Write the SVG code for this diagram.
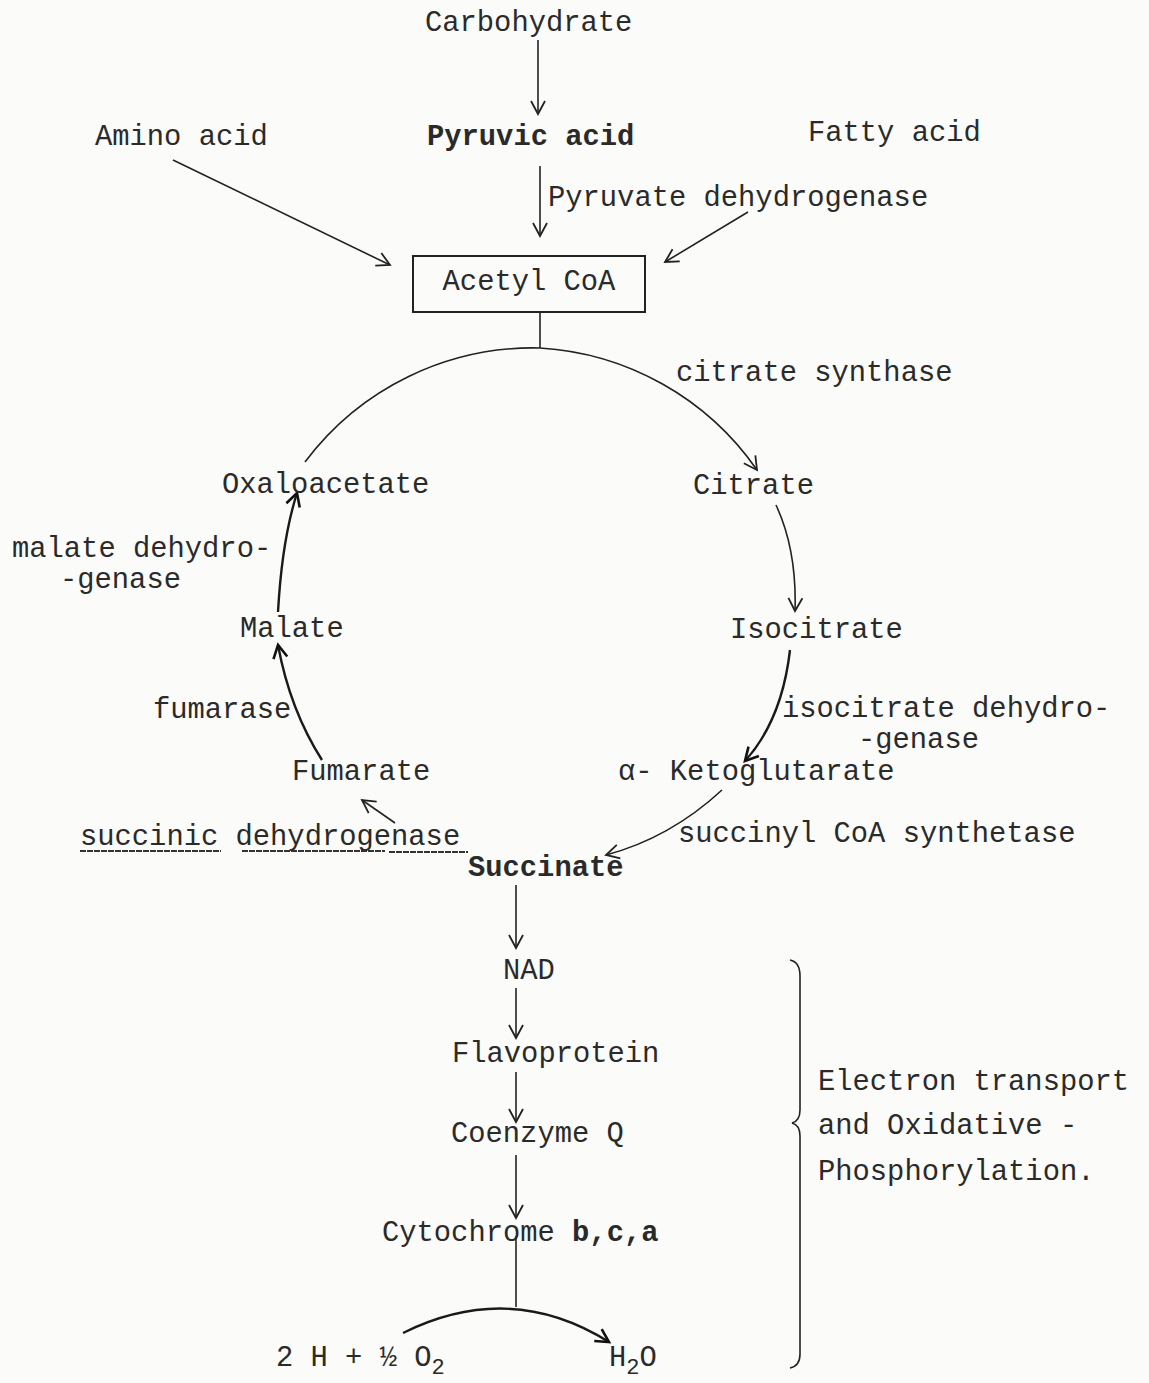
<svg xmlns="http://www.w3.org/2000/svg" width="1149" height="1383" viewBox="0 0 1149 1383">
<style>
text{font-family:"Liberation Mono","DejaVu Sans Mono",monospace;font-size:28.8px;fill:#2a2a2a}
.b{font-weight:bold}
.c{stroke:#222;stroke-width:1.6;fill:none}
.h{stroke:#1a1a1a;stroke-width:2.4;fill:none}
.u{stroke:#333;stroke-width:2;stroke-dasharray:6 1}
</style>
<defs>
<marker id="ah" viewBox="-16 -10 20 20" refX="0" refY="0" markerWidth="20" markerHeight="20" markerUnits="userSpaceOnUse" orient="auto" overflow="visible">
<path d="M -13 -7 L 0 0 L -13 7" fill="none" stroke="#222" stroke-width="1.8"/>
</marker>
<marker id="ahb" viewBox="-16 -10 20 20" refX="0" refY="0" markerWidth="20" markerHeight="20" markerUnits="userSpaceOnUse" orient="auto" overflow="visible">
<path d="M -13 -7 L 0 0 L -13 7" fill="none" stroke="#111" stroke-width="2.6"/>
</marker>
</defs>
<rect x="0" y="0" width="1149" height="1383" fill="#fbfbf9"/>

<g id="connectors">
<line class="c" x1="538" y1="40" x2="538" y2="114" marker-end="url(#ah)"/>
<line class="c" x1="540" y1="166" x2="540" y2="236" marker-end="url(#ah)"/>
<line class="c" x1="173" y1="160" x2="390" y2="265" marker-end="url(#ah)"/>
<line class="c" x1="748" y1="212" x2="665" y2="262" marker-end="url(#ah)"/>
<line class="c" x1="540" y1="312" x2="540" y2="348"/>
<path class="c" d="M 305 462 A 285 285 0 0 1 540 348"/>
<path class="c" d="M 540 348 A 285 285 0 0 1 757 470" marker-end="url(#ah)"/>
<path class="c" d="M 776 505 Q 797 550 795 611" marker-end="url(#ah)"/>
<path class="h" d="M 790 650 Q 782 720 745 761" marker-end="url(#ahb)"/>
<path class="c" d="M 722 790 Q 670 838 606 855" marker-end="url(#ah)"/>
<line class="c" x1="395" y1="823" x2="362" y2="800" marker-end="url(#ah)"/>
<path class="h" d="M 322 760 Q 290 710 278 645" marker-end="url(#ahb)"/>
<path class="h" d="M 278 612 Q 282 540 297 493" marker-end="url(#ahb)"/>
<line class="c" x1="516" y1="885" x2="516" y2="948" marker-end="url(#ah)"/>
<line class="c" x1="516" y1="988" x2="516" y2="1038" marker-end="url(#ah)"/>
<line class="c" x1="516" y1="1072" x2="516" y2="1122" marker-end="url(#ah)"/>
<line class="c" x1="516" y1="1155" x2="516" y2="1218" marker-end="url(#ah)"/>
<line class="c" x1="516" y1="1236" x2="516" y2="1307"/>
<path class="h" d="M 403 1333 Q 510 1280 609 1342" marker-end="url(#ahb)"/>
</g>

<g id="carbohydrate"><text x="425" y="31">Carbohydrate</text></g>
<g id="pyruvic-acid"><text class="b" x="427" y="145">Pyruvic acid</text></g>
<g id="amino-acid"><text x="95" y="145">Amino acid</text></g>
<g id="fatty-acid"><text x="808" y="141">Fatty acid</text></g>
<g id="pyruvate-dehydrogenase"><text x="548" y="206">Pyruvate dehydrogenase</text></g>
<g id="acetyl-coa">
<rect x="413" y="256" width="232" height="56" fill="none" stroke="#222" stroke-width="2"/>
<text x="529" y="290" text-anchor="middle">Acetyl CoA</text>
</g>
<g id="citrate-synthase"><text x="676" y="381">citrate synthase</text></g>
<g id="oxaloacetate"><text x="222" y="493">Oxaloacetate</text></g>
<g id="citrate"><text x="693" y="494">Citrate</text></g>
<g id="malate-dehydrogenase"><text x="12" y="557">malate dehydro-</text><text x="60" y="588">-genase</text></g>
<g id="malate"><text x="240" y="637">Malate</text></g>
<g id="isocitrate"><text x="730" y="638">Isocitrate</text></g>
<g id="fumarase"><text x="153" y="718">fumarase</text></g>
<g id="isocitrate-dehydrogenase"><text x="782" y="717">isocitrate dehydro-</text><text x="858" y="748">-genase</text></g>
<g id="fumarate"><text x="292" y="780">Fumarate</text></g>
<g id="ketoglutarate"><text x="618" y="780">α- Ketoglutarate</text></g>
<g id="succinic-dehydrogenase">
<text x="80" y="845">succinic dehydrogenase</text>
<line class="u" x1="80" y1="851" x2="221" y2="851"/>
<line class="u" x1="242" y1="851" x2="385" y2="851"/>
<line class="u" x1="389" y1="852" x2="468" y2="852"/>
</g>
<g id="succinyl-coa-synthetase"><text x="678" y="842">succinyl CoA synthetase</text></g>
<g id="succinate"><text class="b" x="468" y="876">Succinate</text></g>
<g id="nad"><text x="503" y="979">NAD</text></g>
<g id="flavoprotein"><text x="452" y="1062">Flavoprotein</text></g>
<g id="coenzyme-q"><text x="451" y="1142">Coenzyme Q</text></g>
<g id="cytochrome"><text x="382" y="1241">Cytochrome <tspan class="b">b,c,a</tspan></text></g>
<g id="reactants"><text x="276" y="1366">2 H + ½ O<tspan font-size="22" dy="8">2</tspan></text></g>
<g id="water"><text x="609" y="1366">H<tspan font-size="22" dy="8">2</tspan><tspan dy="-8">O</tspan></text></g>
<g id="electron-transport">
<path class="c" d="M 790 960 Q 800 962 800 976 L 800 1110 Q 800 1121 792 1123 Q 800 1125 800 1136 L 800 1354 Q 800 1366 790 1368"/>
<text x="818" y="1090">Electron transport</text>
<text x="818" y="1134">and Oxidative -</text>
<text x="818" y="1180">Phosphorylation.</text>
</g>
</svg>
